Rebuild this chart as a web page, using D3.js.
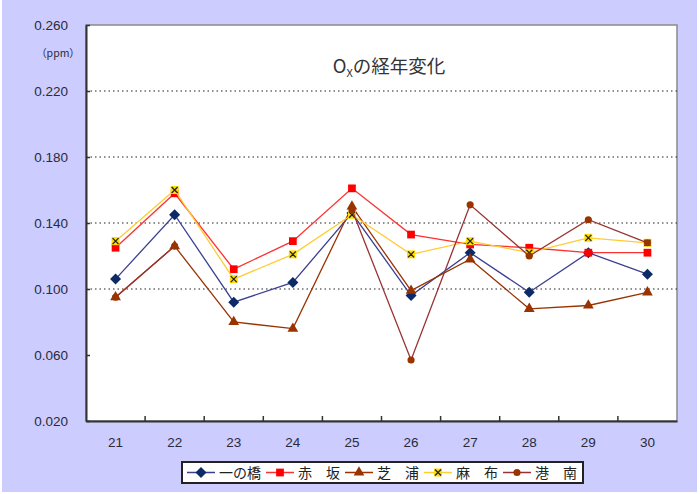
<!DOCTYPE html>
<html>
<head>
<meta charset="utf-8">
<script src="https://cdn.jsdelivr.net/npm/d3@7"></script>
<style>
  html, body { margin: 0; padding: 0; background: #fff; }
  svg { display: block; }
</style>
</head>
<body>
<svg id="chart"></svg>
<script>
// 年度（平成）
const years = ['21', '22', '23', '24', '25', '26', '27', '28', '29', '30'];
// 測定局ごとの年最高値 (ppm)
const ichinohashi = [0.106, 0.145, 0.092, 0.104, 0.146, 0.096, 0.122, 0.098, 0.122, 0.109];
const akasaka     = [0.125, 0.158, 0.112, 0.129, 0.161, 0.133, 0.127, 0.125, 0.122, 0.122];
const shibaura    = [0.095, 0.126, 0.080, 0.076, 0.150, 0.099, 0.118, 0.088, 0.090, 0.098];
const azabu       = [0.129, 0.160, 0.106, 0.121, 0.145, 0.121, 0.129, 0.122, 0.131, 0.128];
const konan       = [0.095, 0.126, null, null, 0.148, 0.057, 0.151, 0.120, 0.142, 0.128];
const stationNames = ['一の橋', '赤　坂', '芝　浦', '麻　布', '港　南'];
const yTicks = [0.020, 0.060, 0.100, 0.140, 0.180, 0.220, 0.260];
const gridValues = [0.100, 0.140, 0.180, 0.220];

const W = 700, H = 494;
const margin = { left: 86, right: 23, top: 25, bottom: 73 };

const svg = d3.select('#chart').attr('width', W).attr('height', H);

// background
svg.append('rect').attr('x', 2).attr('y', 0).attr('width', 695).attr('height', 492)
  .attr('fill', '#ccccff');

const x = d3.scaleBand()
  .domain(years)
  .range([margin.left, W - margin.right])
  .padding(0);
const y = d3.scaleLinear()
  .domain([0.02, 0.26])
  .range([H - margin.bottom, margin.top]);

const px = d => x(d) + x.bandwidth() / 2;

// plot area
svg.append('rect')
  .attr('x', margin.left).attr('y', margin.top)
  .attr('width', W - margin.left - margin.right)
  .attr('height', H - margin.top - margin.bottom)
  .attr('fill', '#fff')
  .attr('stroke', '#8a8a8a').attr('stroke-width', 1.5);

// grid
svg.append('g').selectAll('line')
  .data(gridValues)
  .enter().append('line')
  .attr('x1', margin.left).attr('x2', W - margin.right)
  .attr('y1', d => y(d)).attr('y2', d => y(d))
  .attr('stroke', '#222')
  .attr('stroke-width', 1.2)
  .attr('stroke-dasharray', '1.5,3');

// y axis
const yAxis = svg.append('g')
  .attr('transform', `translate(${margin.left},0)`)
  .call(d3.axisLeft(y).tickValues(yTicks).tickFormat(d3.format('.3f')).tickSizeInner(-4).tickSizeOuter(0).tickPadding(18));
yAxis.select('.domain').attr('stroke', '#333').attr('stroke-width', 2);
yAxis.selectAll('.tick line').attr('stroke', '#333').attr('stroke-width', 1.5);
yAxis.selectAll('.tick text')
  .attr('fill', '#2a2a3a')
  .style('font-family', '"Liberation Sans", Arial, sans-serif')
  .style('font-size', '13.5px');

// x axis
const xAxis = svg.append('g')
  .attr('transform', `translate(0,${H - margin.bottom})`)
  .call(d3.axisBottom(x).tickSize(0).tickPadding(16));
xAxis.select('.domain').attr('stroke', '#333').attr('stroke-width', 2);
xAxis.selectAll('.tick text')
  .attr('fill', '#2a2a3a')
  .style('font-family', '"Liberation Sans", Arial, sans-serif')
  .style('font-size', '13.5px');
// category boundary ticks, pointing up
svg.append('g').selectAll('line')
  .data(years.slice(1))
  .enter().append('line')
  .attr('x1', d => x(d)).attr('x2', d => x(d))
  .attr('y1', H - margin.bottom).attr('y2', H - margin.bottom - 5)
  .attr('stroke', '#333').attr('stroke-width', 1.5);

// unit label
svg.append('text')
  .attr('x', 58).attr('y', 57)
  .attr('text-anchor', 'middle')
  .attr('fill', '#2a2a3a')
  .style('font-family', '"Noto Sans CJK JP", sans-serif')
  .style('font-size', '10.5px')
  .text('（ppm）');

// title
const title = svg.append('text')
  .attr('x', 389).attr('y', 73)
  .attr('text-anchor', 'middle')
  .attr('fill', '#333')
  .style('font-family', '"Noto Sans CJK JP", sans-serif')
  .style('font-size', '18.5px');
title.append('tspan').text('O');
title.append('tspan').attr('dy', 4).style('font-size', '11px').text('X');
title.append('tspan').attr('dy', -4).text('の経年変化');

const series = [
  { name: stationNames[0], values: ichinohashi, line: '#3b3f8f', marker: '#0b2a66', shape: 'diamond' },
  { name: stationNames[1], values: akasaka, line: '#ff3030', marker: '#ff0000', shape: 'square' },
  { name: stationNames[2], values: shibaura, line: '#993300', marker: '#993300', shape: 'triangle' },
  { name: stationNames[3], values: azabu, line: '#ffcc33', marker: '#ffdd00', shape: 'cross' },
  { name: stationNames[4], values: konan, line: '#993333', marker: '#993300', shape: 'circle' }
];

function drawMarker(g, s) {
  if (s.shape === 'diamond') {
    g.append('path').attr('d', 'M0,-5.5L5.5,0L0,5.5L-5.5,0Z').attr('fill', s.marker);
  } else if (s.shape === 'square') {
    g.append('path').attr('d', d3.symbol(d3.symbolSquare, 60)()).attr('fill', s.marker);
  } else if (s.shape === 'triangle') {
    g.append('path').attr('d', d3.symbol(d3.symbolTriangle, 50)()).attr('fill', s.marker);
  } else if (s.shape === 'circle') {
    g.append('path').attr('d', d3.symbol(d3.symbolCircle, 40)()).attr('fill', s.marker);
  } else {
    g.append('rect').attr('x', -4).attr('y', -4).attr('width', 8).attr('height', 8).attr('fill', s.marker);
    g.append('path').attr('d', 'M-3,-3L3,3M-3,3L3,-3').attr('stroke', '#222').attr('stroke-width', 1.3);
  }
}

const line = d3.line()
  .defined(d => d.v != null)
  .x(d => px(d.year))
  .y(d => y(d.v));

series.forEach(s => {
  const pts = years.map((yr, i) => ({ year: yr, v: s.values[i] }));
  svg.append('path')
    .datum(pts)
    .attr('d', line)
    .attr('fill', 'none')
    .attr('stroke', s.line)
    .attr('stroke-width', 1.3);
  svg.append('g').selectAll('g')
    .data(pts.filter(d => d.v != null))
    .enter().append('g')
    .attr('transform', d => `translate(${px(d.year)},${y(d.v)})`)
    .each(function() { drawMarker(d3.select(this), s); });
});

// legend
const legend = svg.append('g');
legend.append('rect')
  .attr('x', 182).attr('y', 462).attr('width', 401).attr('height', 21)
  .attr('fill', '#fff').attr('stroke', '#222').attr('stroke-width', 2);
const item = legend.selectAll('g.item')
  .data(series)
  .enter().append('g')
  .attr('class', 'item')
  .attr('transform', (d, i) => `translate(${187 + i * 79},472.5)`);
item.append('line')
  .attr('x1', 0).attr('x2', 28)
  .attr('stroke', d => d.line).attr('stroke-width', 1.5);
item.append('g')
  .attr('transform', 'translate(14,0)')
  .each(function(d) { drawMarker(d3.select(this), d); });
item.append('text')
  .attr('x', 32).attr('y', 5)
  .attr('fill', '#222')
  .style('font-family', '"Noto Sans CJK JP", sans-serif')
  .style('font-size', '14px')
  .text(d => d.name);
</script>
</body>
</html>
